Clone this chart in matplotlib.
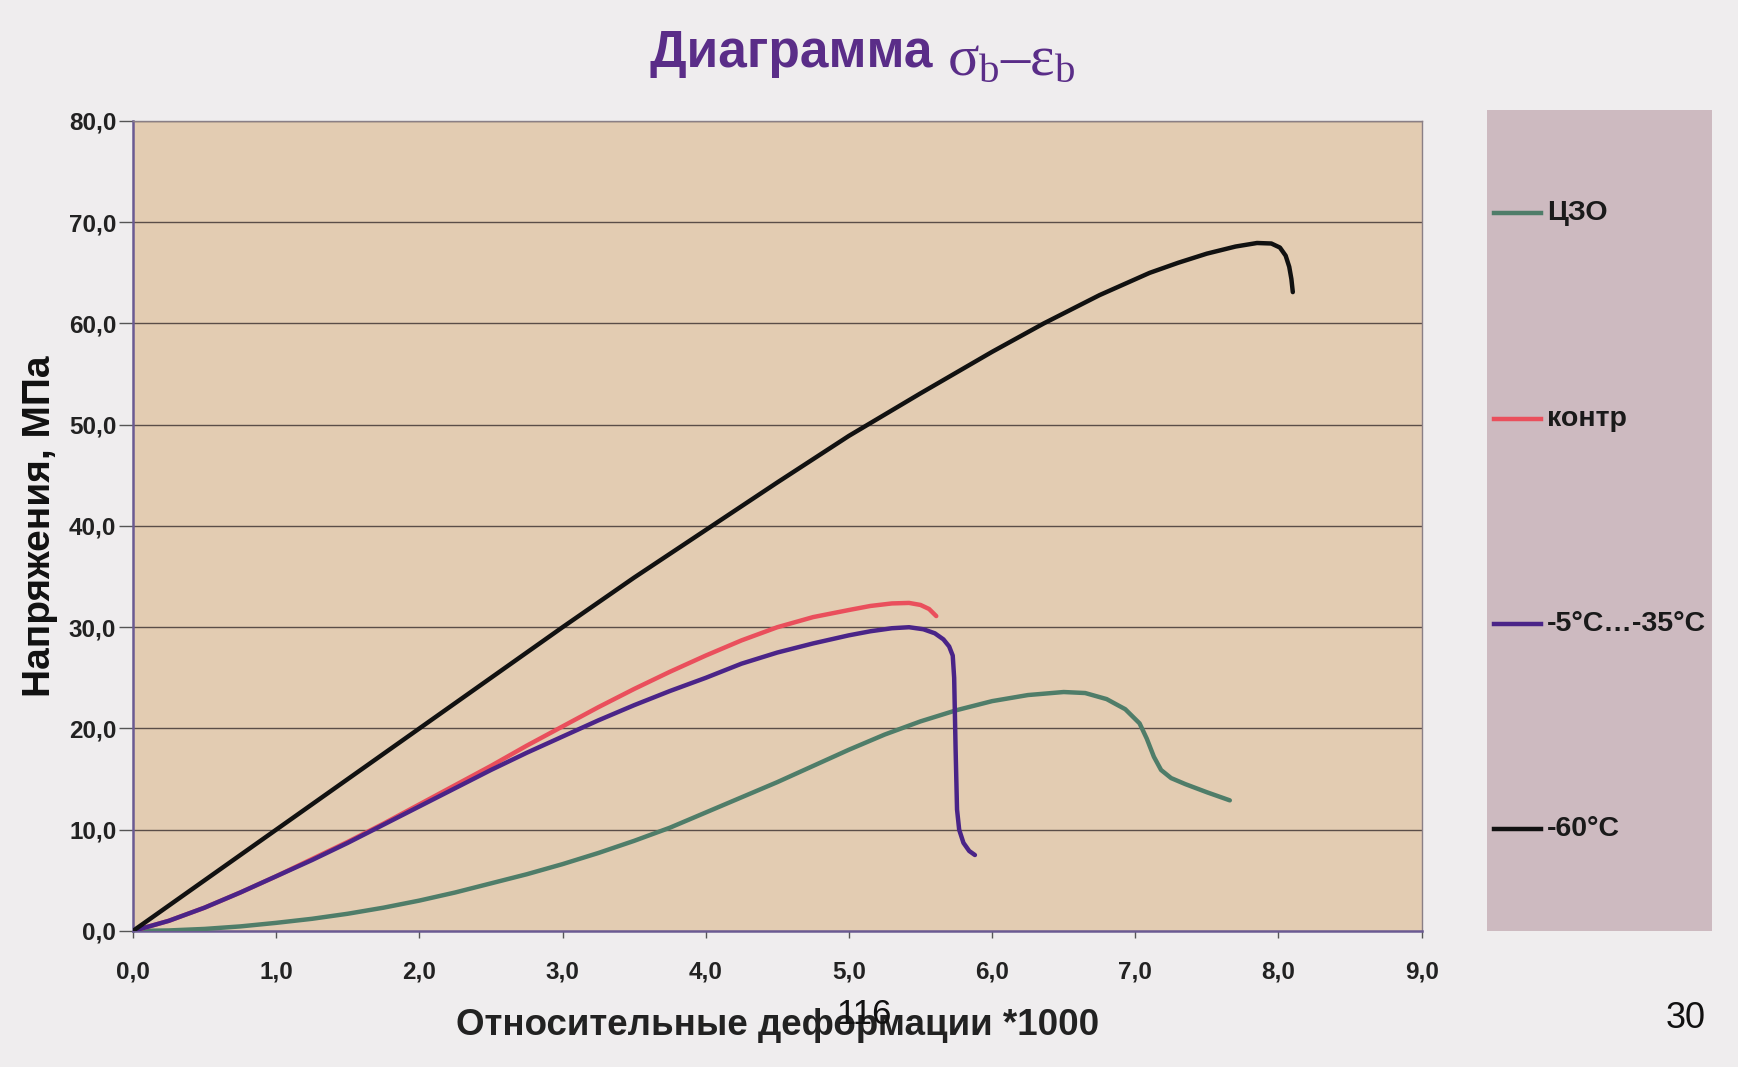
import matplotlib
matplotlib.use("Agg")
import matplotlib.pyplot as plt

plt.rcParams['font.family'] = ['Liberation Sans', 'DejaVu Sans']
plt.rcParams['mathtext.fontset'] = 'custom'
plt.rcParams['mathtext.rm'] = 'Liberation Serif'
plt.rcParams['mathtext.it'] = 'Liberation Serif'

# curves
tzo_x = [0, 0.25, 0.5, 0.75, 1.0, 1.25, 1.5, 1.75, 2.0, 2.25, 2.5, 2.75, 3.0, 3.25, 3.5,
         3.75, 4.0, 4.25, 4.5, 4.75, 5.0, 5.25, 5.5, 5.75, 6.0, 6.25, 6.5, 6.65, 6.8,
         6.93, 7.03, 7.08, 7.13, 7.18, 7.25, 7.35, 7.5, 7.66]
tzo_y = [0, 0.05, 0.2, 0.45, 0.8, 1.2, 1.7, 2.3, 3.0, 3.8, 4.7, 5.6, 6.6, 7.7, 8.9,
         10.2, 11.7, 13.2, 14.7, 16.3, 17.9, 19.4, 20.7, 21.8, 22.7, 23.3, 23.6, 23.5, 22.9,
         21.9, 20.5, 19.0, 17.2, 15.9, 15.1, 14.5, 13.7, 12.9]

kontr_x = [0, 0.25, 0.5, 0.75, 1.0, 1.25, 1.5, 1.75, 2.0, 2.25, 2.5, 2.75, 3.0, 3.25,
           3.5, 3.75, 4.0, 4.25, 4.5, 4.75, 5.0, 5.15, 5.3, 5.42, 5.5, 5.56, 5.61]
kontr_y = [0, 1.0, 2.3, 3.8, 5.4, 7.1, 8.8, 10.6, 12.5, 14.4, 16.3, 18.3, 20.2, 22.1,
           23.9, 25.6, 27.2, 28.7, 30.0, 31.0, 31.7, 32.1, 32.35, 32.4, 32.2, 31.8, 31.1]

warm_x = [0, 0.25, 0.5, 0.75, 1.0, 1.25, 1.5, 1.75, 2.0, 2.25, 2.5, 2.75, 3.0, 3.25,
          3.5, 3.75, 4.0, 4.25, 4.5, 4.75, 5.0, 5.15, 5.3, 5.42, 5.52, 5.6, 5.66, 5.70,
          5.725, 5.735, 5.745, 5.755, 5.77, 5.80, 5.84, 5.88]
warm_y = [0, 1.0, 2.3, 3.8, 5.4, 7.0, 8.7, 10.5, 12.3, 14.1, 15.9, 17.6, 19.2, 20.8,
          22.3, 23.7, 25.0, 26.4, 27.5, 28.4, 29.2, 29.6, 29.9, 30.0, 29.8, 29.4, 28.8, 28.1,
          27.2, 25.0, 18.0, 12.0, 10.0, 8.7, 7.9, 7.5]

cold_x = [0, 0.5, 1.0, 1.5, 2.0, 2.5, 3.0, 3.5, 4.0, 4.5, 5.0, 5.5, 6.0, 6.36, 6.75,
          7.1, 7.3, 7.5, 7.7, 7.85, 7.95, 8.01, 8.05, 8.075, 8.09, 8.10]
cold_y = [0, 5.0, 10.0, 15.0, 20.0, 25.0, 30.0, 34.9, 39.6, 44.3, 48.9, 53.1, 57.2, 60.0,
          62.8, 65.0, 66.0, 66.9, 67.6, 67.95, 67.9, 67.5, 66.7, 65.6, 64.4, 63.1]

names = ["ЦЗО", "контр", "-5°C…-35°C", "-60°C"]
colors = ["#4f7d69", "#ea4f5c", "#4a2488", "#111111"]
series = [(tzo_x, tzo_y), (kontr_x, kontr_y), (warm_x, warm_y), (cold_x, cold_y)]

xticks = [0, 1, 2, 3, 4, 5, 6, 7, 8, 9]
yticks = [0, 10, 20, 30, 40, 50, 60, 70, 80]

fig = plt.figure(figsize=(17.38, 10.67), dpi=100)
fig.patch.set_facecolor("#efedee")

ax = fig.add_axes([0.0765, 0.1275, 0.7415, 0.7591])
ax.set_facecolor("#e3ccb2")

for yv in yticks[1:]:
    ax.axhline(yv, color="#5a4d48", lw=1.0, zorder=1)

for (xs, ys), c in zip(series, colors):
    ax.plot(xs, ys, color=c, lw=3.2, solid_capstyle="round", solid_joinstyle="round",
            zorder=3)

ax.set_xlim(0, 9)
ax.set_ylim(0, 80)
ax.set_xticks(xticks)
ax.set_yticks(yticks)
ax.set_xticklabels([f"{v:.1f}".replace(".", ",") for v in xticks])
ax.set_yticklabels([f"{v:.1f}".replace(".", ",") for v in yticks])
ax.tick_params(axis="y", direction="out", length=10, width=1, color="#555555",
               labelsize=17.5, pad=2)
ax.tick_params(axis="x", direction="out", length=5, width=1, color="#555555",
               labelsize=17.5, pad=16)
for lab in ax.get_xticklabels() + ax.get_yticklabels():
    lab.set_fontweight("bold")
    lab.set_color("#222222")

for s in ["top", "right"]:
    ax.spines[s].set_color("#8a7f86")
    ax.spines[s].set_linewidth(1.0)
for s in ["left", "bottom"]:
    ax.spines[s].set_color("#6a5a92")
    ax.spines[s].set_linewidth(1.8)

ax.set_xlabel("Относительные деформации *1000", fontsize=26.5, fontweight="bold",
              color="#222222", labelpad=18)
ax.set_ylabel("Напряжения, МПа", fontsize=28, fontweight="bold", color="#111111",
              labelpad=8)

fig.text(0.545, 0.950, "Диаграмма ", fontsize=37, fontweight="bold", color="#5a2d88",
         ha="right", va="center")
fig.text(0.545, 0.944, r"$\mathrm{σ_b–ε_b}$", fontsize=42,
         color="#5a2d88", ha="left", va="center")

# legend panel
lax = fig.add_axes([0.8556, 0.1275, 0.1295, 0.769])
lax.set_facecolor("#cdbac0")
lax.set_xlim(0, 1)
lax.set_ylim(0, 1)
lax.set_xticks([])
lax.set_yticks([])
for s in lax.spines.values():
    s.set_visible(False)
leg_y = [0.875, 0.624, 0.374, 0.124]
for name, c, yy in zip(names, colors, leg_y):
    lax.plot([0.03, 0.24], [yy, yy], color=c, lw=3.2)
    lax.text(0.265, yy, name, fontsize=20.5, fontweight="bold", color="#1a1a1a",
             va="center", ha="left")

# page marks
fig.text(0.497, 0.049, "116", fontsize=25, color="#111111", ha="center", va="center")
fig.text(0.970, 0.045, "30", fontsize=26, color="#111111", ha="center", va="center")

fig.savefig("out.png", dpi=100, facecolor=fig.get_facecolor())
